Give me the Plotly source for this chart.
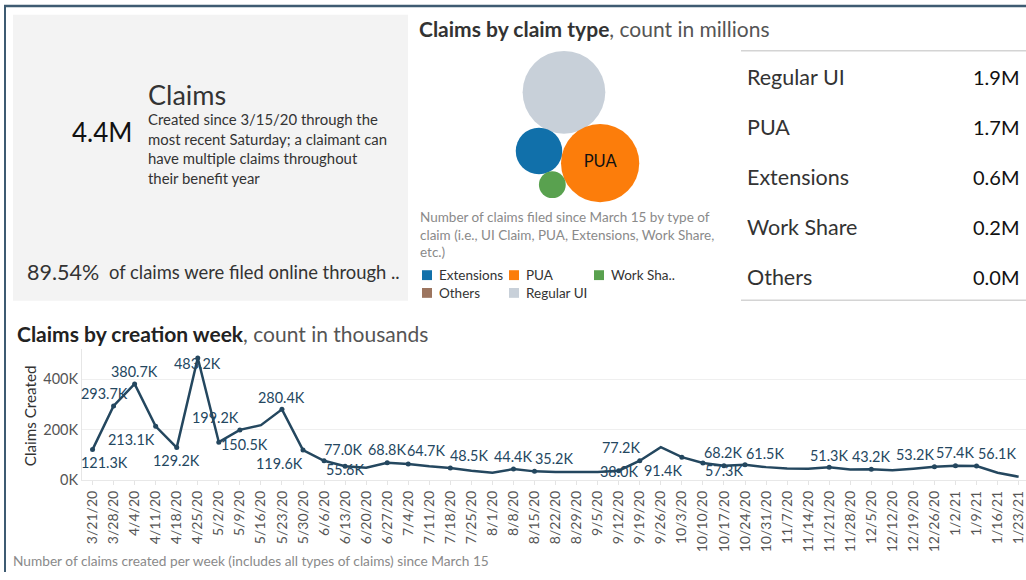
import math
import plotly.graph_objects as go

W, H = 1026, 580

# ---------------- data ----------------
weeks = ["3/21/20", "3/28/20", "4/4/20", "4/11/20", "4/18/20", "4/25/20", "5/2/20", "5/9/20",
         "5/16/20", "5/23/20", "5/30/20", "6/6/20", "6/13/20", "6/20/20", "6/27/20", "7/4/20",
         "7/11/20", "7/18/20", "7/25/20", "8/1/20", "8/8/20", "8/15/20", "8/22/20", "8/29/20",
         "9/5/20", "9/12/20", "9/19/20", "9/26/20", "10/3/20", "10/10/20", "10/17/20", "10/24/20",
         "10/31/20", "11/7/20", "11/14/20", "11/21/20", "11/28/20", "12/5/20", "12/12/20",
         "12/19/20", "12/26/20", "1/2/21", "1/9/21", "1/16/21", "1/23/21"]
claims_k = [121.3, 293.7, 380.7, 213.1, 129.2, 483.2, 150.5, 199.2,
            218.0, 280.4, 119.6, 77.0, 55.6, 50.0, 68.8, 64.7,
            55.0, 48.5, 38.0, 30.0, 44.4, 35.2, 33.0, 33.0,
            33.0, 38.0, 77.2, 131.0, 91.4, 68.2, 57.3, 61.5,
            52.0, 47.0, 46.0, 51.3, 43.0, 43.2, 40.0,
            46.0, 53.2, 57.4, 56.1, 30.0, 14.0]
y_ticks_k = [0, 200, 400]

claim_types = ["Regular UI", "PUA", "Extensions", "Work Share", "Others"]
type_counts_m = [1.9, 1.7, 0.6, 0.2, 0.0]
legend_order = ["Extensions", "PUA", "Work Share", "Others", "Regular UI"]
legend_names = {"Work Share": "Work Sha.."}
bubble_labels_shown = ["PUA"]

total_claims_m = 4.4
online_pct = 89.54

# ---------------- styles ----------------
FONT = "Lato"
LINE = "#24475f"
type_colors = {"Regular UI": "#c8d0d9", "PUA": "#fc7d0b", "Extensions": "#1170aa",
               "Work Share": "#59a14f", "Others": "#9c755f"}

# label offsets (px, +dy = down) for labelled weeks
label_offsets = {
    "3/21/20": (12, 13), "3/28/20": (-9, -12), "4/4/20": (0, -12), "4/11/20": (-24, 13),
    "4/18/20": (0, 13), "4/25/20": (0, 5), "5/2/20": (26, 2), "5/9/20": (-24, -12),
    "5/23/20": (0, -12), "5/30/20": (-24, 13), "6/6/20": (19, -11), "6/13/20": (0, 3),
    "6/27/20": (0, -13), "7/4/20": (18, -13), "7/18/20": (19, -13), "8/8/20": (0, -13),
    "8/15/20": (19, -13), "9/12/20": (0, 1), "9/19/20": (-19, -13), "10/3/20": (-19, 13),
    "10/10/20": (20, -11), "10/17/20": (0, 5), "10/24/20": (20, -11), "11/21/20": (0, -12),
    "12/5/20": (0, -13), "12/26/20": (-19, -12), "1/2/21": (0, -13), "1/9/21": (20, -13),
}


def px(x):
    return x / W


def py(y):
    return 1 - y / H


fig = go.Figure()

# ---------------- line chart ----------------
fig.add_trace(go.Scatter(x=weeks, y=claims_k, mode="lines", line=dict(color=LINE, width=2.5),
                         hoverinfo="skip", showlegend=False, xaxis="x", yaxis="y"))
lab_weeks = [w for w in weeks if w in label_offsets]
lab_vals = [claims_k[weeks.index(w)] for w in lab_weeks]
fig.add_trace(go.Scatter(x=lab_weeks, y=lab_vals, mode="markers",
                         marker=dict(color=LINE, size=5), hoverinfo="skip",
                         showlegend=False, xaxis="x", yaxis="y"))
for w, v in zip(lab_weeks, lab_vals):
    dx, dy = label_offsets[w]
    fig.add_annotation(x=w, y=v, xref="x", yref="y", text=f"{v:.1f}K", showarrow=False,
                       xshift=dx, yshift=-dy, font=dict(family=FONT, size=14.4, color=LINE))

# ---------------- packed bubbles ----------------
k = 30.0
radii = [k * math.sqrt(v) for v in type_counts_m]


def tangent(a, ra, b, rb, r, side):
    d = math.dist(a, b)
    da, db = ra + r, rb + r
    x = (da * da - db * db + d * d) / (2 * d)
    h = math.sqrt(max(da * da - x * x, 0))
    ux, uy = (b[0] - a[0]) / d, (b[1] - a[1]) / d
    return (a[0] + ux * x - side * uy * h, a[1] + uy * x + side * ux * h)


ang = math.radians(-63.3)
c0 = (0.0, 0.0)
c1 = ((radii[0] + radii[1]) * math.cos(ang), (radii[0] + radii[1]) * math.sin(ang))
c2 = tangent(c0, radii[0], c1, radii[1], radii[2], -1)
c3 = tangent(c2, radii[2], c1, radii[1], radii[3], -1)
c4 = c0
centers = [c0, c1, c2, c3, c4]
xmin = min(c[0] - r for c, r in zip(centers, radii))
xmax = max(c[0] + r for c, r in zip(centers, radii))
ymin = min(c[1] - r for c, r in zip(centers, radii))
ymax = max(c[1] + r for c, r in zip(centers, radii))
cx0, cy0 = 577.5, -128.4
bx = [c[0] - (xmin + xmax) / 2 + cx0 for c in centers]
by = [c[1] - (ymin + ymax) / 2 + cy0 for c in centers]

vis = [i for i, v in enumerate(type_counts_m) if v > 0]
fig.add_trace(go.Scatter(
    x=[bx[i] for i in vis], y=[by[i] for i in vis], mode="markers+text",
    marker=dict(size=[2 * radii[i] for i in vis], sizemode="diameter",
                color=[type_colors[claim_types[i]] for i in vis], line=dict(width=0), opacity=1),
    text=[claim_types[i] if claim_types[i] in bubble_labels_shown else "" for i in vis],
    textposition="middle center", textfont=dict(family=FONT, size=16.5, color="#111"),
    hoverinfo="skip", showlegend=False, xaxis="x2", yaxis="y2"))

shapes = []
# gray KPI box
shapes.append(dict(type="rect", xref="paper", yref="paper", x0=px(13), x1=px(408), y0=py(305), y1=py(15),
                   fillcolor="#f3f3f3", line=dict(width=0), layer="below"))
# dashboard frame
shapes.append(dict(type="line", xref="paper", yref="paper", x0=px(4), x1=1, y0=py(6), y1=py(6),
                   line=dict(color="#3e5b72", width=2.5)))
shapes.append(dict(type="line", xref="paper", yref="paper", x0=px(5), x1=px(5), y0=0, y1=py(6),
                   line=dict(color="#3e5b72", width=2)))
# table lines
for yy in (51.5, 304.5):
    shapes.append(dict(type="line", xref="paper", yref="paper", x0=px(741), x1=1, y0=py(yy), y1=py(yy),
                       line=dict(color="#d4d4d4", width=1.5)))

ann = []


def text(x, y, s, size, color="#333", xanchor="left", yanchor="middle", angle=0):
    ann.append(dict(x=px(x), y=py(y), xref="paper", yref="paper", text=s, showarrow=False,
                    xanchor=xanchor, yanchor=yanchor, textangle=angle,
                    font=dict(family=FONT, size=size, color=color)))


# KPI box
text(146, 96, "Claims", 27, "#333")
text(134, 134, f"{total_claims_m:.1f}M", 26, "#111", xanchor="right")
desc = ["Created since 3/15/20 through the", "most recent Saturday; a claimant can",
        "have multiple claims throughout", "their benefit year"]
for i, s in enumerate(desc):
    text(146, 121 + i * 19.7, s, 14.9, "#333")
text(25, 276, f"{online_pct:.2f}%", 21.5, "#333")
text(107, 276, "of claims were filed online through ..", 18.4, "#333")

# claim type title
text(417, 29, "<b>Claims by claim type</b><span style='color:#555'>, count in millions</span>", 21, "#333")
caption = ["Number of claims filed since March 15 by type of",
           "claim (i.e., UI Claim, PUA, Extensions, Work Share,", "etc.)"]
for i, s in enumerate(caption):
    text(418, 220 + i * 18, s, 13.5, "#8a8a8a")

# legend
leg_pos = [(422, 279), (509, 279), (594, 279), (422, 297), (509, 297)]
for name, (lx, ly) in zip(legend_order, leg_pos):
    shapes.append(dict(type="rect", xref="paper", yref="paper", x0=px(lx), x1=px(lx + 10),
                       y0=py(ly + 5), y1=py(ly - 5), fillcolor=type_colors[name], line=dict(width=0)))
    text(lx + 15, ly, legend_names.get(name, name), 13.5, "#333")

# table
for i, (name, v) in enumerate(zip(claim_types, type_counts_m)):
    yy = 78 + i * 50.6
    text(745, yy, name, 21.5, "#333")
    text(1022, yy, f"{v:.1f}M", 20, "#111", xanchor="right")

# line chart title / captions
text(15, 338, "<b>Claims by creation week</b><span style='color:#555'>, count in thousands</span>", 21, "#222")
text(30, 422, "Claims Created", 15.2, "#333", xanchor="center", angle=-90)
text(11, 568, "Number of claims created per week (includes all types of claims) since March 15",
     13.7, "#8a8a8a")

fig.update_layout(
    width=W, height=H, margin=dict(l=0, r=0, t=0, b=0),
    paper_bgcolor="white", plot_bgcolor="white", showlegend=False,
    font=dict(family=FONT),
    shapes=shapes, annotations=list(fig.layout.annotations) + ann,
    xaxis=dict(domain=[px(82), 1], range=[-0.5, 44.35], type="category",
               categoryorder="array", categoryarray=weeks, tickangle=-90,
               tickfont=dict(family=FONT, size=14, color="#555"), showgrid=False,
               ticks="outside", ticklen=4, tickcolor="#e4e4e4", showline=True,
               linecolor="#e8e8e8", zeroline=False, fixedrange=True),
    yaxis=dict(domain=[py(487), py(353.6)], range=[0, 520], tickvals=y_ticks_k,
               ticktext=[f"{t}K" for t in y_ticks_k], tickfont=dict(family=FONT, size=14.5, color="#555"),
               gridcolor="#efefef", showline=True, linecolor="#e6e6e6", zeroline=False,
               fixedrange=True),
    xaxis2=dict(domain=[px(410), px(740)], range=[410, 740], visible=False, fixedrange=True),
    yaxis2=dict(domain=[py(215), py(40)], range=[-215, -40], visible=False, fixedrange=True),
)

fig.write_html("out.html", config={"displayModeBar": False},
               post_script="document.body.style.margin='0';document.body.style.overflow='hidden';")
